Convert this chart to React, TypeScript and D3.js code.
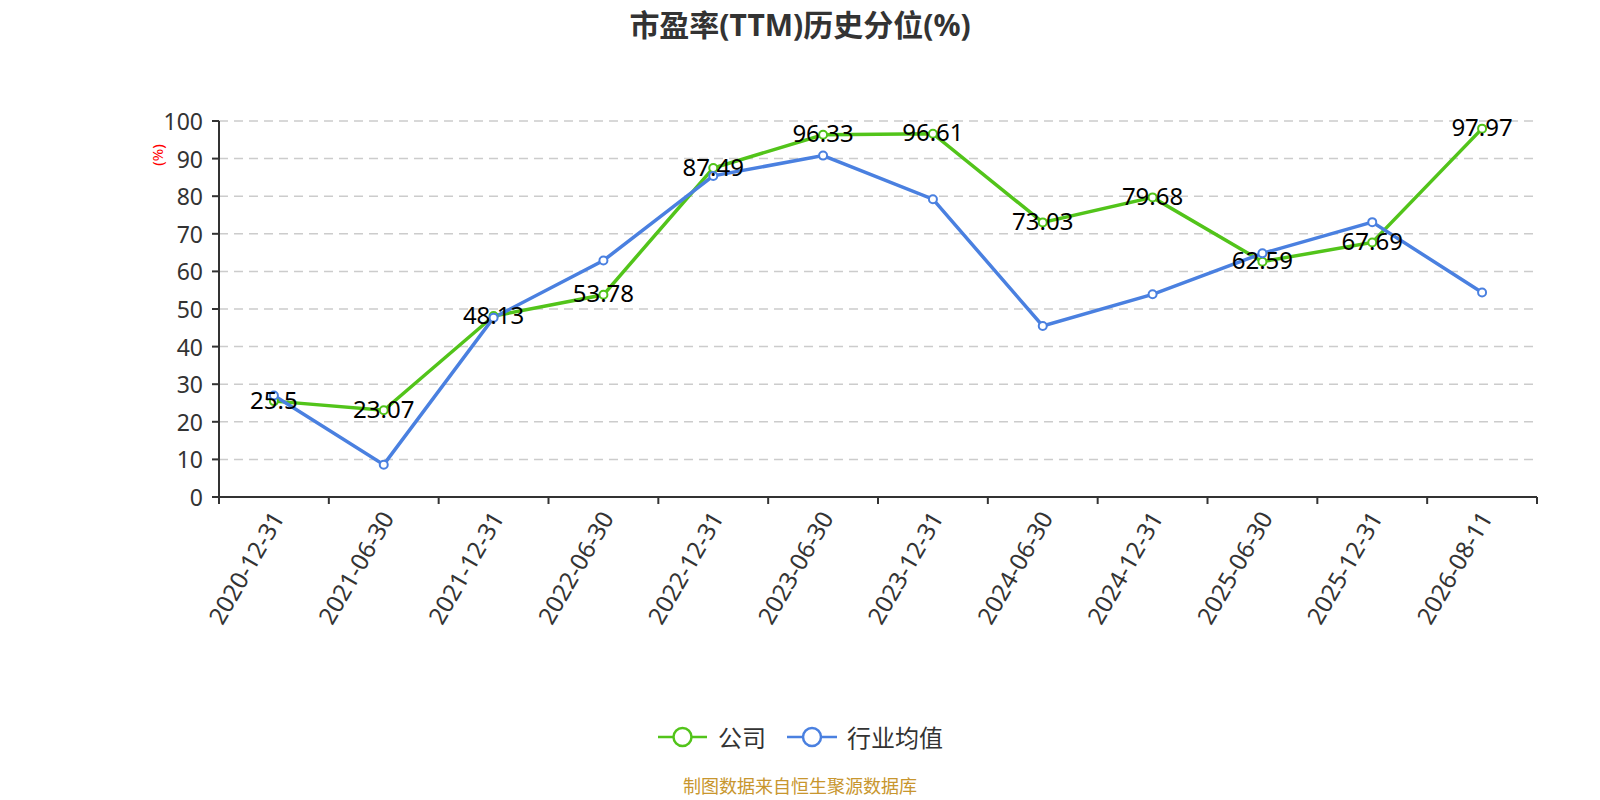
import React from 'react';
import * as d3 from 'd3';

const dates = [
  '2020-12-31', '2021-06-30', '2021-12-31', '2022-06-30', '2022-12-31', '2023-06-30',
  '2023-12-31', '2024-06-30', '2024-12-31', '2025-06-30', '2025-12-31', '2026-08-11',
];
const companyValues = [25.5, 23.07, 48.13, 53.78, 87.49, 96.33, 96.61, 73.03, 79.68, 62.59, 67.69, 97.97];
const industryValues = [27.0, 8.6, 47.7, 62.9, 85.4, 90.8, 79.2, 45.5, 53.9, 64.8, 73.1, 54.4];
const yTicks = [0, 10, 20, 30, 40, 50, 60, 70, 80, 90, 100];

const GREEN = '#52c41a';
const BLUE = '#4a80e0';
const FONT = '"Noto Sans", "Noto Sans CJK SC", sans-serif';

const App: React.FC = () => {
  const width = 1600;
  const height = 800;
  const left = 219;
  const right = 1537;
  const top = 121;
  const bottom = 497;

  const x = d3.scaleBand<string>().domain(dates).range([left, right]).padding(0);
  const y = d3.scaleLinear().domain([0, 100]).range([bottom, top]);
  const cx = (d: string) => (x(d) ?? 0) + x.bandwidth() / 2;

  const line = d3.line<number>()
    .x((_, i) => cx(dates[i]))
    .y(v => y(v));

  const boundaries = dates.map(d => x(d) ?? 0).concat([right]);

  return (
    <div style={{ position: 'absolute', left: 0, top: 0 }}>
      <svg width={width} height={height} style={{ fontFamily: FONT, display: 'block' }}>
        <rect width={width} height={height} fill="#fff" />
        <text x={800} y={24} textAnchor="middle" dominantBaseline="central"
          fontSize={30} fontWeight="bold" fill="#333">市盈率(TTM)历史分位(%)</text>

        {/* grid */}
        {yTicks.filter(t => t > 0).map(t => (
          <line key={t} x1={left} x2={right} y1={y(t)} y2={y(t)}
            stroke="#ccc" strokeWidth={1.5} strokeDasharray="9,6" />
        ))}

        {/* y axis */}
        <line x1={left} x2={left} y1={top} y2={bottom} stroke="#333" strokeWidth={2} />
        {yTicks.map(t => (
          <g key={t}>
            <line x1={left - 7} x2={left} y1={y(t)} y2={y(t)} stroke="#333" strokeWidth={2} />
            <text x={left - 16} y={y(t)} textAnchor="end" dominantBaseline="central"
              fontSize={23} fill="#333">{t}</text>
          </g>
        ))}
        <text transform={`translate(157,155) rotate(-90)`} textAnchor="middle"
          dominantBaseline="central" fontSize={15} fill="red">(%)</text>

        {/* x axis */}
        <line x1={left} x2={right} y1={bottom} y2={bottom} stroke="#333" strokeWidth={2} />
        {boundaries.map((b, i) => (
          <line key={i} x1={b} x2={b} y1={bottom} y2={bottom + 7} stroke="#333" strokeWidth={2} />
        ))}
        {dates.map(d => (
          <text key={d} transform={`translate(${cx(d) + 3},${bottom + 16}) rotate(-60)`}
            textAnchor="end" dominantBaseline="central" fontSize={24} fill="#333">{d}</text>
        ))}

        {/* series */}
        <path d={line(companyValues) ?? ''} fill="none" stroke={GREEN} strokeWidth={3.5} />
        <path d={line(industryValues) ?? ''} fill="none" stroke={BLUE} strokeWidth={3.5} />
        {companyValues.map((v, i) => (
          <circle key={'c' + i} cx={cx(dates[i])} cy={y(v)} r={4} fill="#fff" stroke={GREEN} strokeWidth={2} />
        ))}
        {industryValues.map((v, i) => (
          <circle key={'b' + i} cx={cx(dates[i])} cy={y(v)} r={4} fill="#fff" stroke={BLUE} strokeWidth={2} />
        ))}
        {companyValues.map((v, i) => (
          <text key={'l' + i} x={cx(dates[i])} y={y(v) - 2} textAnchor="middle"
            dominantBaseline="central" fontSize={24} fill="#000">{v}</text>
        ))}

        {/* legend */}
        <g>
          <line x1={658} x2={707} y1={737} y2={737} stroke={GREEN} strokeWidth={2.5} />
          <circle cx={682.5} cy={737} r={9} fill="#fff" stroke={GREEN} strokeWidth={2.5} />
          <text x={718} y={737} dominantBaseline="central" fontSize={24} fill="#333">公司</text>
          <line x1={787} x2={837} y1={737} y2={737} stroke={BLUE} strokeWidth={2.5} />
          <circle cx={812} cy={737} r={9} fill="#fff" stroke={BLUE} strokeWidth={2.5} />
          <text x={847} y={737} dominantBaseline="central" fontSize={24} fill="#333">行业均值</text>
        </g>

        <text x={800} y={786} textAnchor="middle" dominantBaseline="central"
          fontSize={18} fill="#c8962e">制图数据来自恒生聚源数据库</text>
      </svg>
    </div>
  );
};

export default App;
